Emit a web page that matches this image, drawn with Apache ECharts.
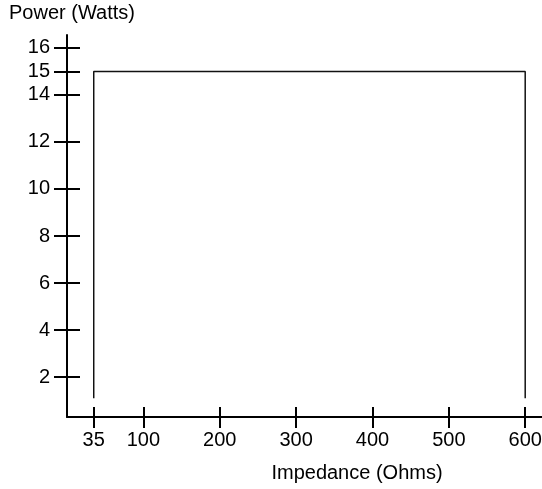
<!DOCTYPE html>
<html><head><meta charset="utf-8">
<script src="https://cdn.jsdelivr.net/npm/echarts@6/dist/echarts.min.js"></script>
<style>html,body{margin:0;padding:0;background:#fff}#c{width:542px;height:489px}</style>
</head><body><div id="c"></div>
<script>
const impedance = [35, 35, 600, 600];
const power = [1.1, 15, 15, 1.1];
const xTicks = [35, 100, 200, 300, 400, 500, 600];
const yTicks = [2, 4, 6, 8, 10, 12, 14, 15, 16];
const xName = 'Impedance (Ohms)';
const yName = 'Power (Watts)';

const chart = echarts.init(document.getElementById('c'));
const font = 'Liberation Sans, Arial, sans-serif';
const fs = 20;
const xRange = {min: 0, max: 622};
const yRange = {min: 0.3, max: 16.55};
const ax = {lineStyle: {color: '#000', width: 2}};
chart.setOption({
  animation: false,
  title: {text: yName, left: 9, top: 3, padding: 0, textStyle: {fontFamily: font, fontSize: fs, fontWeight: 'normal', color: '#000'}},
  grid: {left: 67, right: 0, top: 35, bottom: 72, containLabel: false, outerBoundsMode: 'none'},
  xAxis: [{
    type: 'value', ...xRange, splitLine: {show: false},
    axisLine: {show: true, ...ax},
    axisTick: {show: true, customValues: xTicks, length: 11, lineStyle: {color: '#000', width: 2}},
    axisLabel: {customValues: xTicks, margin: 13, fontFamily: font, fontSize: fs, color: '#000'},
    name: xName, nameLocation: 'middle', nameGap: 46,
    nameTextStyle: {fontFamily: font, fontSize: fs, color: '#000', padding: [0, 0, 0, 105]}
  }, {
    type: 'value', ...xRange, position: 'bottom', splitLine: {show: false},
    axisLine: {show: false},
    axisTick: {show: true, inside: true, customValues: xTicks, length: 10, lineStyle: {color: '#000', width: 2}},
    axisLabel: {show: false}
  }],
  yAxis: [{
    type: 'value', ...yRange, splitLine: {show: false},
    axisLine: {show: true, ...ax},
    axisTick: {show: true, customValues: yTicks, length: 13, lineStyle: {color: '#000', width: 2}},
    axisLabel: {customValues: yTicks, margin: 17, fontFamily: font, fontSize: fs, color: '#000'}
  }, {
    type: 'value', ...yRange, position: 'left', splitLine: {show: false},
    axisLine: {show: false},
    axisTick: {show: true, inside: true, customValues: yTicks, length: 13, lineStyle: {color: '#000', width: 2}},
    axisLabel: {show: false}
  }],
  series: [{
    type: 'line', symbol: 'none', xAxisIndex: 0, yAxisIndex: 0,
    data: impedance.map((x, i) => [x, power[i]]),
    lineStyle: {color: '#111', width: 1.5}
  }]
});
</script></body></html>
